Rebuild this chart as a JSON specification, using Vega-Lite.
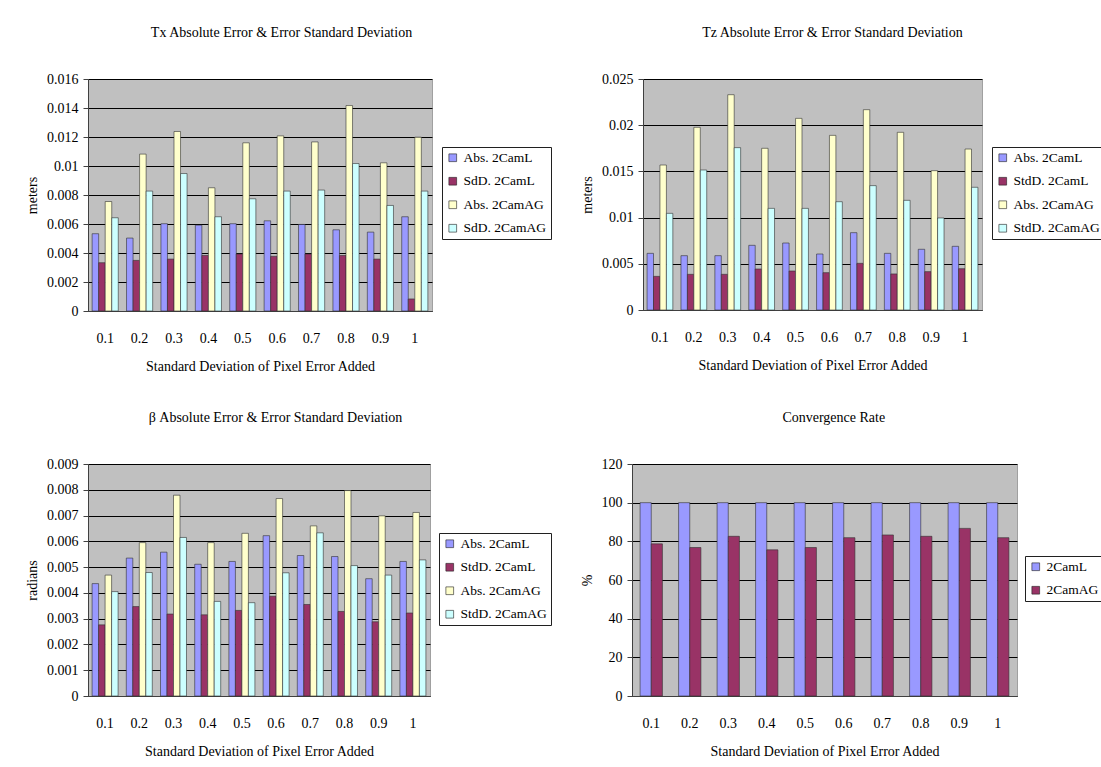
{
"$schema": "https://vega.github.io/schema/vega-lite/v6.json",
"background": "white",
"padding": {"left": 25, "top": 25, "right": 0, "bottom": 0},
"config": {
  "font": "Liberation Serif",
  "view": {"fill": "#c0c0c0", "stroke": "#a0a0a0"},
  "bar": {"stroke": "#303030", "strokeWidth": 0.6},
  "scale": {"offsetBandPaddingInner": 0, "offsetBandPaddingOuter": 0},
  "axis": {"labelFont": "Liberation Serif", "titleFont": "Liberation Serif", "labelFontSize": 14, "titleFontSize": 14, "titleFontWeight": "normal", "labelColor": "black", "titleColor": "black", "domainColor": "#404040", "tickColor": "#404040"},
  "axisX": {"grid": false, "labelAngle": 0, "labelPadding": 20, "ticks": false, "titlePadding": 14},
  "axisY": {"grid": true, "gridColor": "black", "gridWidth": 1, "gridOpacity": 1, "tickSize": 5, "labelPadding": 5, "titlePadding": 7},
  "title": {"fontSize": 14, "fontWeight": "normal", "font": "Liberation Serif", "color": "black", "offset": 32, "frame": "bounds", "anchor": "middle"},
  "legend": {"orient": "none", "title": null, "strokeColor": "#202020", "fillColor": "white", "padding": 4, "symbolType": "square", "symbolSize": 60, "symbolStrokeColor": "#202020", "symbolStrokeWidth": 0.6, "labelFontSize": 13.5, "labelFont": "Liberation Serif", "labelColor": "black", "rowPadding": 8.5, "labelOffset": 4}
},
"datasets": {
  "tx": [
    {"x":"0.1","s":"Abs. 2CamL","v":0.00533},{"x":"0.1","s":"SdD. 2CamL","v":0.00333},{"x":"0.1","s":"Abs. 2CamAG","v":0.00755},{"x":"0.1","s":"SdD. 2CamAG","v":0.00643},
    {"x":"0.2","s":"Abs. 2CamL","v":0.00503},{"x":"0.2","s":"SdD. 2CamL","v":0.00349},{"x":"0.2","s":"Abs. 2CamAG","v":0.01082},{"x":"0.2","s":"SdD. 2CamAG","v":0.00827},
    {"x":"0.3","s":"Abs. 2CamL","v":0.00602},{"x":"0.3","s":"SdD. 2CamL","v":0.00358},{"x":"0.3","s":"Abs. 2CamAG","v":0.01238},{"x":"0.3","s":"SdD. 2CamAG","v":0.00948},
    {"x":"0.4","s":"Abs. 2CamL","v":0.00592},{"x":"0.4","s":"SdD. 2CamL","v":0.00383},{"x":"0.4","s":"Abs. 2CamAG","v":0.0085},{"x":"0.4","s":"SdD. 2CamAG","v":0.0065},
    {"x":"0.5","s":"Abs. 2CamL","v":0.00602},{"x":"0.5","s":"SdD. 2CamL","v":0.00393},{"x":"0.5","s":"Abs. 2CamAG","v":0.0116},{"x":"0.5","s":"SdD. 2CamAG","v":0.00774},
    {"x":"0.6","s":"Abs. 2CamL","v":0.00622},{"x":"0.6","s":"SdD. 2CamL","v":0.00377},{"x":"0.6","s":"Abs. 2CamAG","v":0.01208},{"x":"0.6","s":"SdD. 2CamAG","v":0.00827},
    {"x":"0.7","s":"Abs. 2CamL","v":0.00597},{"x":"0.7","s":"SdD. 2CamL","v":0.00393},{"x":"0.7","s":"Abs. 2CamAG","v":0.01166},{"x":"0.7","s":"SdD. 2CamAG","v":0.00834},
    {"x":"0.8","s":"Abs. 2CamL","v":0.0056},{"x":"0.8","s":"SdD. 2CamL","v":0.00383},{"x":"0.8","s":"Abs. 2CamAG","v":0.01417},{"x":"0.8","s":"SdD. 2CamAG","v":0.01017},
    {"x":"0.9","s":"Abs. 2CamL","v":0.00544},{"x":"0.9","s":"SdD. 2CamL","v":0.00358},{"x":"0.9","s":"Abs. 2CamAG","v":0.01022},{"x":"0.9","s":"SdD. 2CamAG","v":0.00728},
    {"x":"1","s":"Abs. 2CamL","v":0.0065},{"x":"1","s":"SdD. 2CamL","v":0.00083},{"x":"1","s":"Abs. 2CamAG","v":0.01199},{"x":"1","s":"SdD. 2CamAG","v":0.00827}
  ],
  "tz": [
    {"x":"0.1","s":"Abs. 2CamL","v":0.00613},{"x":"0.1","s":"StdD. 2CamL","v":0.00364},{"x":"0.1","s":"Abs. 2CamAG","v":0.01569},{"x":"0.1","s":"StdD. 2CamAG","v":0.01046},
    {"x":"0.2","s":"Abs. 2CamL","v":0.00588},{"x":"0.2","s":"StdD. 2CamL","v":0.00386},{"x":"0.2","s":"Abs. 2CamAG","v":0.01977},{"x":"0.2","s":"StdD. 2CamAG","v":0.01515},
    {"x":"0.3","s":"Abs. 2CamL","v":0.00588},{"x":"0.3","s":"StdD. 2CamL","v":0.00386},{"x":"0.3","s":"Abs. 2CamAG","v":0.0233},{"x":"0.3","s":"StdD. 2CamAG","v":0.01757},
    {"x":"0.4","s":"Abs. 2CamL","v":0.007},{"x":"0.4","s":"StdD. 2CamL","v":0.00444},{"x":"0.4","s":"Abs. 2CamAG","v":0.0175},{"x":"0.4","s":"StdD. 2CamAG","v":0.011},
    {"x":"0.5","s":"Abs. 2CamL","v":0.00725},{"x":"0.5","s":"StdD. 2CamL","v":0.00422},{"x":"0.5","s":"Abs. 2CamAG","v":0.02074},{"x":"0.5","s":"StdD. 2CamAG","v":0.011},
    {"x":"0.6","s":"Abs. 2CamL","v":0.00606},{"x":"0.6","s":"StdD. 2CamL","v":0.00404},{"x":"0.6","s":"Abs. 2CamAG","v":0.0189},{"x":"0.6","s":"StdD. 2CamAG","v":0.01172},
    {"x":"0.7","s":"Abs. 2CamL","v":0.00837},{"x":"0.7","s":"StdD. 2CamL","v":0.00505},{"x":"0.7","s":"Abs. 2CamAG","v":0.02168},{"x":"0.7","s":"StdD. 2CamAG","v":0.01346},
    {"x":"0.8","s":"Abs. 2CamL","v":0.00613},{"x":"0.8","s":"StdD. 2CamL","v":0.0039},{"x":"0.8","s":"Abs. 2CamAG","v":0.01923},{"x":"0.8","s":"StdD. 2CamAG","v":0.01187},
    {"x":"0.9","s":"Abs. 2CamL","v":0.00657},{"x":"0.9","s":"StdD. 2CamL","v":0.00415},{"x":"0.9","s":"Abs. 2CamAG","v":0.01508},{"x":"0.9","s":"StdD. 2CamAG","v":0.00996},
    {"x":"1","s":"Abs. 2CamL","v":0.00689},{"x":"1","s":"StdD. 2CamL","v":0.00447},{"x":"1","s":"Abs. 2CamAG","v":0.01742},{"x":"1","s":"StdD. 2CamAG","v":0.01328}
  ],
  "beta": [
    {"x":"0.1","s":"Abs. 2CamL","v":0.00436},{"x":"0.1","s":"StdD. 2CamL","v":0.00276},{"x":"0.1","s":"Abs. 2CamAG","v":0.00469},{"x":"0.1","s":"StdD. 2CamAG","v":0.00405},
    {"x":"0.2","s":"Abs. 2CamL","v":0.00535},{"x":"0.2","s":"StdD. 2CamL","v":0.00347},{"x":"0.2","s":"Abs. 2CamAG","v":0.00595},{"x":"0.2","s":"StdD. 2CamAG","v":0.00479},
    {"x":"0.3","s":"Abs. 2CamL","v":0.00558},{"x":"0.3","s":"StdD. 2CamL","v":0.00318},{"x":"0.3","s":"Abs. 2CamAG","v":0.00779},{"x":"0.3","s":"StdD. 2CamAG","v":0.00615},
    {"x":"0.4","s":"Abs. 2CamL","v":0.00511},{"x":"0.4","s":"StdD. 2CamL","v":0.00315},{"x":"0.4","s":"Abs. 2CamAG","v":0.00595},{"x":"0.4","s":"StdD. 2CamAG","v":0.00367},
    {"x":"0.5","s":"Abs. 2CamL","v":0.00522},{"x":"0.5","s":"StdD. 2CamL","v":0.00332},{"x":"0.5","s":"Abs. 2CamAG","v":0.00631},{"x":"0.5","s":"StdD. 2CamAG","v":0.00362},
    {"x":"0.6","s":"Abs. 2CamL","v":0.00622},{"x":"0.6","s":"StdD. 2CamL","v":0.00387},{"x":"0.6","s":"Abs. 2CamAG","v":0.00766},{"x":"0.6","s":"StdD. 2CamAG","v":0.00478},
    {"x":"0.7","s":"Abs. 2CamL","v":0.00545},{"x":"0.7","s":"StdD. 2CamL","v":0.00355},{"x":"0.7","s":"Abs. 2CamAG","v":0.0066},{"x":"0.7","s":"StdD. 2CamAG","v":0.00633},
    {"x":"0.8","s":"Abs. 2CamL","v":0.00541},{"x":"0.8","s":"StdD. 2CamL","v":0.00328},{"x":"0.8","s":"Abs. 2CamAG","v":0.00797},{"x":"0.8","s":"StdD. 2CamAG","v":0.00506},
    {"x":"0.9","s":"Abs. 2CamL","v":0.00455},{"x":"0.9","s":"StdD. 2CamL","v":0.00288},{"x":"0.9","s":"Abs. 2CamAG","v":0.00699},{"x":"0.9","s":"StdD. 2CamAG","v":0.00469},
    {"x":"1","s":"Abs. 2CamL","v":0.00522},{"x":"1","s":"StdD. 2CamL","v":0.00322},{"x":"1","s":"Abs. 2CamAG","v":0.00712},{"x":"1","s":"StdD. 2CamAG","v":0.00528}
  ],
  "conv": [
    {"x":"0.1","s":"2CamL","v":100},{"x":"0.1","s":"2CamAG","v":78.7},
    {"x":"0.2","s":"2CamL","v":100},{"x":"0.2","s":"2CamAG","v":76.8},
    {"x":"0.3","s":"2CamL","v":100},{"x":"0.3","s":"2CamAG","v":82.6},
    {"x":"0.4","s":"2CamL","v":100},{"x":"0.4","s":"2CamAG","v":75.6},
    {"x":"0.5","s":"2CamL","v":100},{"x":"0.5","s":"2CamAG","v":76.8},
    {"x":"0.6","s":"2CamL","v":100},{"x":"0.6","s":"2CamAG","v":81.9},
    {"x":"0.7","s":"2CamL","v":100},{"x":"0.7","s":"2CamAG","v":83.3},
    {"x":"0.8","s":"2CamL","v":100},{"x":"0.8","s":"2CamAG","v":82.6},
    {"x":"0.9","s":"2CamL","v":100},{"x":"0.9","s":"2CamAG","v":86.7},
    {"x":"1","s":"2CamL","v":100},{"x":"1","s":"2CamAG","v":81.9}
  ]
},
"resolve": {"scale": {"color": "independent", "xOffset": "independent", "x": "independent", "y": "independent"}, "legend": {"color": "independent"}},
"spacing": 36,
"vconcat": [
  {
    "spacing": 28,
    "resolve": {"scale": {"color": "independent", "xOffset": "independent", "x": "independent", "y": "independent"}, "legend": {"color": "independent"}},
    "hconcat": [
      {
        "title": {"text": "Tx Absolute Error & Error Standard Deviation", "dx": -7},
        "width": 344, "height": 232,
        "data": {"name": "tx"},
        "mark": {"type": "bar"},
        "encoding": {
          "x": {"field": "x", "type": "nominal", "sort": null, "scale": {"paddingInner": 0.24, "paddingOuter": 0.12}, "axis": {"title": "Standard Deviation of Pixel Error Added"}},
          "xOffset": {"field": "s", "type": "nominal", "sort": ["Abs. 2CamL","SdD. 2CamL","Abs. 2CamAG","SdD. 2CamAG"], "scale": {"paddingInner": 0, "paddingOuter": 0}},
          "y": {"field": "v", "type": "quantitative", "scale": {"domain": [0, 0.016], "nice": false}, "axis": {"title": "meters", "values": [0,0.002,0.004,0.006,0.008,0.01,0.012,0.014,0.016], "format": "~g"}},
          "color": {"field": "s", "type": "nominal", "scale": {"domain": ["Abs. 2CamL","SdD. 2CamL","Abs. 2CamAG","SdD. 2CamAG"], "range": ["#9999ff","#993366","#ffffcc","#ccffff"]}, "legend": {"legendX": 354, "legendY": 68}}
        }
      },
      {
        "title": {"text": "Tz Absolute Error & Error Standard Deviation", "dx": -10},
        "width": 339, "height": 231,
        "data": {"name": "tz"},
        "mark": {"type": "bar"},
        "encoding": {
          "x": {"field": "x", "type": "nominal", "sort": null, "scale": {"paddingInner": 0.24, "paddingOuter": 0.12}, "axis": {"title": "Standard Deviation of Pixel Error Added"}},
          "xOffset": {"field": "s", "type": "nominal", "sort": ["Abs. 2CamL","StdD. 2CamL","Abs. 2CamAG","StdD. 2CamAG"], "scale": {"paddingInner": 0, "paddingOuter": 0}},
          "y": {"field": "v", "type": "quantitative", "scale": {"domain": [0, 0.025], "nice": false}, "axis": {"title": "meters", "values": [0,0.005,0.01,0.015,0.02,0.025], "format": "~g"}},
          "color": {"field": "s", "type": "nominal", "scale": {"domain": ["Abs. 2CamL","StdD. 2CamL","Abs. 2CamAG","StdD. 2CamAG"], "range": ["#9999ff","#993366","#ffffcc","#ccffff"]}, "legend": {"legendX": 349, "legendY": 68}}
        }
      }
    ]
  },
  {
    "spacing": 27,
    "resolve": {"scale": {"color": "independent", "xOffset": "independent", "x": "independent", "y": "independent"}, "legend": {"color": "independent"}},
    "hconcat": [
      {
        "title": {"text": "β  Absolute Error & Error Standard Deviation", "dx": -13},
        "width": 342, "height": 232,
        "data": {"name": "beta"},
        "mark": {"type": "bar"},
        "encoding": {
          "x": {"field": "x", "type": "nominal", "sort": null, "scale": {"paddingInner": 0.24, "paddingOuter": 0.12}, "axis": {"title": "Standard Deviation of Pixel Error Added"}},
          "xOffset": {"field": "s", "type": "nominal", "sort": ["Abs. 2CamL","StdD. 2CamL","Abs. 2CamAG","StdD. 2CamAG"], "scale": {"paddingInner": 0, "paddingOuter": 0}},
          "y": {"field": "v", "type": "quantitative", "scale": {"domain": [0, 0.009], "nice": false}, "axis": {"title": "radians", "values": [0,0.001,0.002,0.003,0.004,0.005,0.006,0.007,0.008,0.009], "format": "~g"}},
          "color": {"field": "s", "type": "nominal", "scale": {"domain": ["Abs. 2CamL","StdD. 2CamL","Abs. 2CamAG","StdD. 2CamAG"], "range": ["#9999ff","#993366","#ffffcc","#ccffff"]}, "legend": {"legendX": 351, "legendY": 69}}
        }
      },
      {
        "title": {"text": "Convergence Rate", "dx": -8},
        "width": 385, "height": 232,
        "data": {"name": "conv"},
        "mark": {"type": "bar"},
        "encoding": {
          "x": {"field": "x", "type": "nominal", "sort": null, "scale": {"paddingInner": 0.42, "paddingOuter": 0.21}, "axis": {"title": "Standard Deviation of Pixel Error Added"}},
          "xOffset": {"field": "s", "type": "nominal", "sort": ["2CamL","2CamAG"], "scale": {"paddingInner": 0, "paddingOuter": 0}},
          "y": {"field": "v", "type": "quantitative", "scale": {"domain": [0, 120], "nice": false}, "axis": {"title": "%", "values": [0,20,40,60,80,100,120]}},
          "color": {"field": "s", "type": "nominal", "scale": {"domain": ["2CamL","2CamAG"], "range": ["#9999ff","#993366"]}, "legend": {"legendX": 393, "legendY": 92}}
        }
      }
    ]
  }
]
}
